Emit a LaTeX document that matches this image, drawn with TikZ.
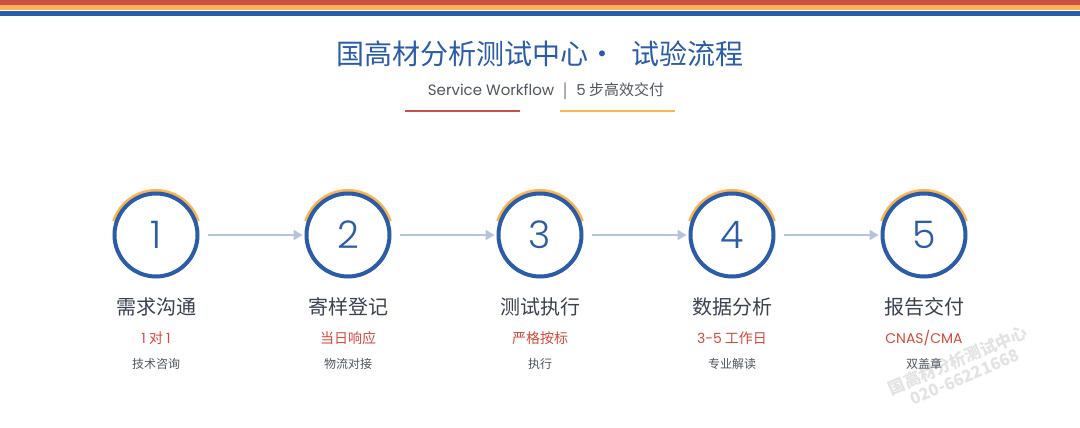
\documentclass[tikz,border=0pt]{standalone}
\usepackage{fontspec}
\setmainfont{Noto Sans CJK SC}
\newfontfamily\geo{Poppins}
\newfontfamily\geolight{Poppins Light}
\usetikzlibrary{arrows.meta}
\definecolor{stripered}{HTML}{CB5046}
\definecolor{stripeorange}{HTML}{FDB44E}
\definecolor{mainblue}{HTML}{2A5CA8}
\definecolor{darktext}{HTML}{3A4150}
\definecolor{redtext}{HTML}{D44A3C}
\definecolor{graytext}{HTML}{50565F}
\definecolor{linkgray}{HTML}{B7C3D6}
\tikzstyle{stepcircle}=[circle,draw=mainblue,line width=4pt,fill=white,minimum size=83pt,inner sep=0pt,text=mainblue,font=\geolight\fontsize{38}{38}\selectfont]
\tikzstyle{steptitle}=[text=darktext,font=\fontsize{20}{20}\selectfont]
\tikzstyle{stephint}=[text=redtext,font=\fontsize{14}{14}\selectfont]
\tikzstyle{stepnote}=[text=graytext,font=\fontsize{12}{12}\selectfont]
\tikzstyle{link}=[linkgray,line width=2pt,-{Triangle[length=9pt,width=10pt]}]
\tikzstyle{halo}=[stripeorange,line width=3pt]

\begin{document}
\begin{tikzpicture}[x=1pt,y=-1pt]
\useasboundingbox[fill=white] (0,0) rectangle (1080,428);

% stripes
\fill[stripered]    (0,0)    rectangle (1080,5);
\fill[stripeorange] (0,5.3)  rectangle (1080,10.3);
\fill[mainblue]     (0,11)   rectangle (1080,16.3);

% watermark
\node[rotate=23,align=center,text=black!11,font=\bfseries\fontsize{16.5}{18}\selectfont] (mark) at (961,368) {国高材分析测试中心\\020-66221668};

% heading
\node[text=mainblue,font=\fontsize{28}{28}\selectfont] (title) at (540,54) {国高材分析测试中心·\hspace{16pt}试验流程};
\node[text=graytext,font=\fontsize{15}{15}\selectfont] (sub) at (546,91) {{\geo Service Workflow}\hspace{9pt}|\hspace{9pt}{\geo 5} 步高效交付};
\draw[stripered,line width=2pt]    (405,111) -- (520,111);
\draw[stripeorange,line width=2pt] (560,111) -- (675,111);

% orange halos
\draw[halo] (156,235) ++(198:44.5) arc (198:342:44.5);
\draw[halo] (348,235) ++(198:44.5) arc (198:342:44.5);
\draw[halo] (540,235) ++(198:44.5) arc (198:342:44.5);
\draw[halo] (732,235) ++(198:44.5) arc (198:342:44.5);
\draw[halo] (924,235) ++(198:44.5) arc (198:342:44.5);

% steps
\node[stepcircle] (1) at (156,235) {1};
\node[stepcircle] (2) at (348,235) {2};
\node[stepcircle] (3) at (540,235) {3};
\node[stepcircle] (4) at (732,235) {4};
\node[stepcircle] (5) at (924,235) {5};

\draw[link] ([xshift=8pt]1.east) -- ([xshift=-2pt]2.west);
\draw[link] ([xshift=8pt]2.east) -- ([xshift=-2pt]3.west);
\draw[link] ([xshift=8pt]3.east) -- ([xshift=-2pt]4.west);
\draw[link] ([xshift=8pt]4.east) -- ([xshift=-2pt]5.west);

\node[steptitle] (t1) at (156,307) {需求沟通};
\node[steptitle] (t2) at (348,307) {寄样登记};
\node[steptitle] (t3) at (540,307) {测试执行};
\node[steptitle] (t4) at (732,307) {数据分析};
\node[steptitle] (t5) at (924,307) {报告交付};

\node[stephint] (h1) at (156,338) {{\geo 1} 对 {\geo 1}};
\node[stephint] (h2) at (348,338) {当日响应};
\node[stephint] (h3) at (540,338) {严格按标};
\node[stephint] (h4) at (732,338) {{\geo 3-5} 工作日};
\node[stephint] (h5) at (924,338) {\geo CNAS/CMA};

\node[stepnote] (n1) at (156,364) {技术咨询};
\node[stepnote] (n2) at (348,364) {物流对接};
\node[stepnote] (n3) at (540,364) {执行};
\node[stepnote] (n4) at (732,364) {专业解读};
\node[stepnote] (n5) at (924,364) {双盖章};

\end{tikzpicture}
\end{document}
